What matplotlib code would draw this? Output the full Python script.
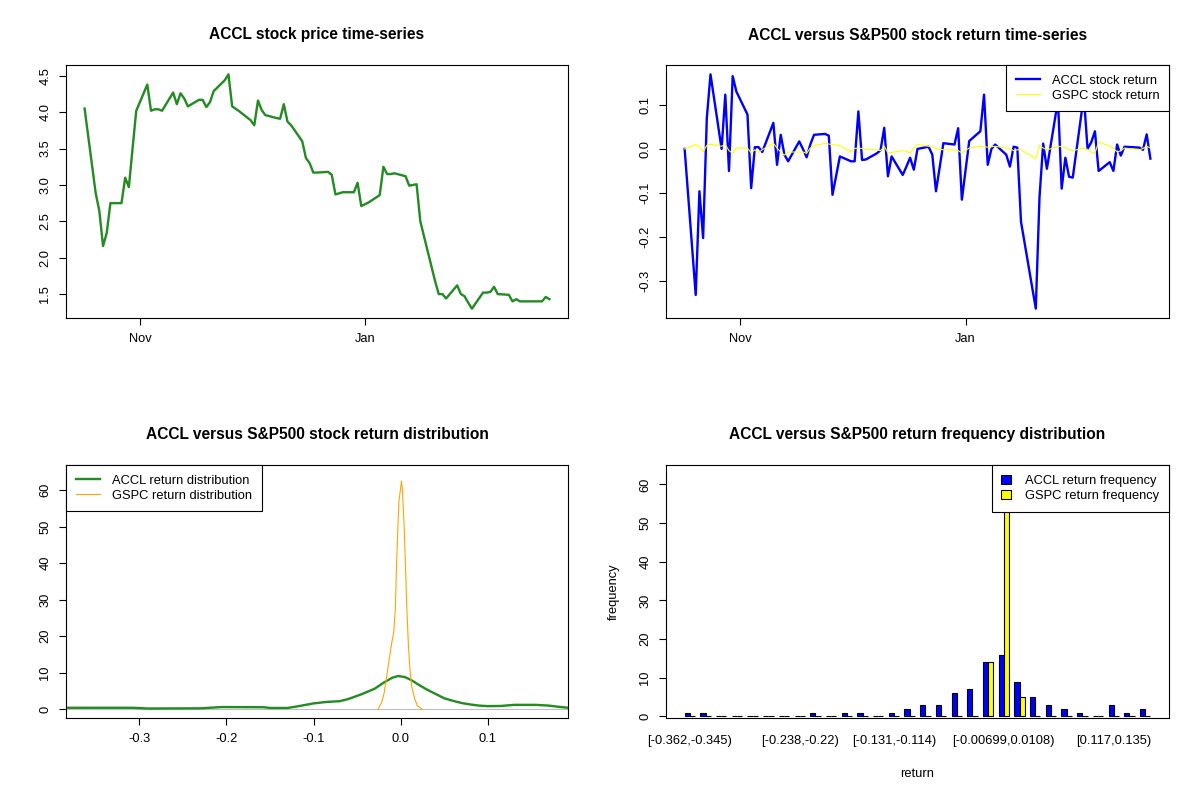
import numpy as np
import pandas as pd
import matplotlib
matplotlib.use('Agg')
import matplotlib.pyplot as plt
from matplotlib.patches import Patch
from matplotlib.lines import Line2D

plt.rcParams['font.family'] = ['Liberation Sans', 'DejaVu Sans']

# trading days shown on the two time-series panels
holidays = ['2014-11-27', '2014-12-25', '2015-01-01', '2015-01-19', '2015-02-16']
dates = pd.bdate_range('2014-10-17', '2015-02-20', freq='C', holidays=holidays)

accl_price = [4.05, 2.89, 2.64, 2.16, 2.34, 2.75, 2.75, 3.10, 2.97, 3.50, 4.02,
              4.38, 4.02, 4.04, 4.04, 4.02, 4.27, 4.11, 4.26, 4.19, 4.08,
              4.17, 4.17, 4.07, 4.14, 4.29, 4.44, 4.52, 4.08, 4.01,
              3.89, 3.82, 4.16, 4.03, 3.96, 3.92, 3.91, 4.11, 3.87, 3.82,
              3.60, 3.37, 3.30, 3.17, 3.17, 3.18, 3.14, 2.87, 2.90, 2.90, 3.03, 2.71,
              2.76, 2.86, 3.25, 3.15, 3.15, 3.16, 3.12, 2.99, 3.00, 3.01, 2.50,
              1.68, 1.50, 1.50, 1.44, 1.62, 1.50, 1.47, 1.38, 1.30,
              1.52, 1.52, 1.53, 1.60, 1.50, 1.49, 1.40, 1.43, 1.40, 1.40,
              1.40, 1.40, 1.46, 1.43]

accl_ret = [0.0, -0.331, -0.096, -0.202, 0.07, 0.169, 0.0, 0.123, -0.05, 0.165, 0.13,
            0.078, -0.089, 0.004, 0.004, -0.007, 0.059, -0.036, 0.032, -0.013, -0.028,
            0.017, 0.0, -0.019, 0.01, 0.032, 0.034, 0.03, -0.104, -0.017,
            -0.028, -0.028, 0.085, -0.025, -0.024, -0.01, -0.003, 0.048, -0.062, -0.017,
            -0.059, -0.04, -0.02, -0.047, 0.0, 0.005, -0.013, -0.096, 0.013, 0.01, 0.047, -0.115,
            0.018, 0.04, 0.123, -0.036, 0.0, 0.01, -0.013, -0.04, 0.005, 0.003, -0.165,
            -0.362, -0.11, 0.012, -0.045, 0.11, -0.09, -0.02, -0.063, -0.065,
            0.12, 0.0, 0.015, 0.04, -0.05, -0.03, -0.05, 0.01, -0.015, 0.005,
            0.003, -0.002, 0.033, -0.022]

gspc_ret = [0.0, 0.010, 0.005, -0.007, 0.008, 0.011, 0.006, 0.010, -0.004, -0.010, 0.002,
            0.002, -0.009, -0.002, -0.008, -0.002, 0.013, 0.002, -0.007, -0.014, -0.007,
            -0.007, -0.007, -0.010, 0.002, 0.007, 0.013, 0.011, 0.010, 0.007,
            -0.007, 0.001, 0.002, 0.001, -0.001, -0.002, -0.004, 0.006, -0.009, -0.008,
            -0.004, -0.005, -0.009, 0.002, 0.010, 0.006, 0.004, 0.001, -0.002, -0.002, -0.004, -0.009,
            0.002, 0.006, 0.005, 0.004, 0.005, 0.006, 0.002, 0.001, -0.004, -0.002, -0.002,
            -0.022, 0.008, 0.002, -0.002, 0.005, 0.006, 0.002, -0.002, -0.004,
            0.002, -0.001, -0.007, -0.010, 0.016, 0.006, 0.002, -0.007, -0.004, 0.002,
            -0.002, 0.001, 0.006, 0.002]

# density curves
accl_dens_x = [-0.384, -0.307, -0.29, -0.23, -0.205, -0.157, -0.15, -0.13, -0.118, -0.10,
               -0.085, -0.07, -0.06, -0.045, -0.03, -0.02, -0.01, -0.003, 0.005, 0.012,
               0.02, 0.03, 0.04, 0.05, 0.06, 0.07, 0.08, 0.09, 0.10, 0.115,
               0.13, 0.155, 0.17, 0.18, 0.192]
accl_dens_y = [0.4, 0.4, 0.2, 0.25, 0.6, 0.55, 0.35, 0.35, 0.8, 1.6,
               2.0, 2.2, 2.8, 4.1, 5.6, 7.2, 8.6, 9.1, 8.8, 8.0,
               6.8, 5.4, 4.2, 3.0, 2.3, 1.7, 1.3, 1.0, 0.85, 0.9,
               1.2, 1.2, 1.0, 0.7, 0.4]
gspc_dens_x = [-0.026, -0.0216, -0.019, -0.016, -0.013, -0.0097, -0.008, -0.006, -0.005,
               -0.0035, -0.002, 0.001, 0.002, 0.004, 0.0057, 0.007, 0.0088, 0.0106,
               0.0128, 0.016, 0.019, 0.0246]
gspc_dens_y = [0, 2, 4.4, 9, 14, 19, 21, 28, 38, 48, 57, 62.5, 60, 50, 38, 28, 18, 11,
               6, 3, 1, 0]

# return frequency per bin (30 bins)
accl_freq = [1, 1, 0, 0, 0, 0, 0, 0, 1, 0, 1, 1, 0, 1, 2, 3, 3, 6, 7, 14,
             16, 9, 5, 3, 2, 1, 0, 3, 1, 2]
gspc_freq = [0, 0, 0, 0, 0, 0, 0, 0, 0, 0, 0, 0, 0, 0, 0, 0, 0, 0, 0, 14,
             64, 5, 0, 0, 0, 0, 0, 0, 0, 0]
bin_label_idx = [0, 7, 13, 20, 27]
bin_labels = ['[-0.362,-0.345)', '[-0.238,-0.22)', '[-0.131,-0.114)',
              '[-0.00699,0.0108)', '[0.117,0.135)']

W, H = 1200, 800
FS = 9.3
fig = plt.figure(figsize=(12, 8), dpi=100)

def box(l, t, r, b):
    ax = fig.add_axes([l / W, 1 - b / H, (r - l) / W, (b - t) / H])
    for s in ax.spines.values():
        s.set_linewidth(0.8)
    ax.tick_params(direction='out', length=5, width=0.8, labelsize=FS, pad=5.5)
    return ax

def title(ax, txt, y):
    p = ax.get_position()
    fig.text((p.x0 + p.x1) / 2, 1 - y / H, txt, ha='center', va='center',
             fontsize=11.2, fontweight='bold')

def rot_y(ax):
    for lab in ax.get_yticklabels():
        lab.set_rotation(90)
        lab.set_va('center')

def r_legend(ax, handles, labels, loc, **kw):
    leg = ax.legend(handles=handles, labels=labels, loc=loc, borderaxespad=0,
                    fancybox=False, edgecolor='black', framealpha=1, fontsize=FS,
                    borderpad=0.75, labelspacing=0.22, **kw)
    leg.get_frame().set_linewidth(0.8)
    return leg

date_ticks = [pd.Timestamp('2014-11-01'), pd.Timestamp('2015-01-01')]

# price
ax1 = box(66, 65, 568, 318)
ax1.plot(dates, accl_price, color='forestgreen', lw=1.7)
ax1.margins(x=0.04, y=0.04)
ax1.set_xticks(date_ticks)
ax1.set_xticklabels(['Nov', 'Jan'])
ax1.set_yticks([1.5, 2.0, 2.5, 3.0, 3.5, 4.0, 4.5])
ax1.set_yticklabels(['1.5', '2.0', '2.5', '3.0', '3.5', '4.0', '4.5'])
rot_y(ax1)
title(ax1, 'ACCL stock price time-series', 35)

# returns
ax2 = box(666, 65, 1169, 318)
ax2.plot(dates, accl_ret, color='blue', lw=1.7)
ax2.plot(dates, gspc_ret, color='yellow', lw=0.8)
ax2.margins(x=0.04, y=0.04)
ax2.set_xticks(date_ticks)
ax2.set_xticklabels(['Nov', 'Jan'])
ax2.set_yticks([-0.3, -0.2, -0.1, 0.0, 0.1])
ax2.set_yticklabels(['-0.3', '-0.2', '-0.1', '0.0', '0.1'])
rot_y(ax2)
r_legend(ax2, [Line2D([], [], color='blue', lw=1.7),
               Line2D([], [], color='yellow', lw=0.8)],
         ['ACCL stock return', 'GSPC stock return'], 'upper right',
         handlelength=1.9, handletextpad=0.9)
title(ax2, 'ACCL versus S&P500 stock return time-series', 35)

# densities
ax3 = box(66, 465, 568, 718)
ax3.axhline(0, color='#bebebe', lw=0.8)
ax3.plot(accl_dens_x, accl_dens_y, color='forestgreen', lw=1.7)
ax3.plot(gspc_dens_x, gspc_dens_y, color='orange', lw=0.8)
ax3.set_xlim(-0.384, 0.192)
ax3.set_ylim(-2.4, 66.9)
ax3.set_xticks([-0.3, -0.2, -0.1, 0.0, 0.1])
ax3.set_xticklabels(['-0.3', '-0.2', '-0.1', '0.0', '0.1'])
ax3.set_yticks([0, 10, 20, 30, 40, 50, 60])
rot_y(ax3)
r_legend(ax3, [Line2D([], [], color='forestgreen', lw=1.7),
               Line2D([], [], color='orange', lw=0.8)],
         ['ACCL return distribution', 'GSPC return distribution'], 'upper left',
         handlelength=1.9, handletextpad=0.9)
title(ax3, 'ACCL versus S&P500 stock return distribution', 435)

# frequency bars
ax4 = box(666, 465, 1169, 718)
grp = np.arange(len(accl_freq))
ax4.bar(3 * grp + 1, accl_freq, width=1, align='edge', color='blue',
        edgecolor='black', lw=0.8)
ax4.bar(3 * grp + 2, gspc_freq, width=1, align='edge', color='yellow',
        edgecolor='black', lw=0.8)
ax4.set_xlim(1 - 3.56, 90 + 3.56)
ax4.set_ylim(-0.4, 65)
ax4.set_xticks([3 * i + 2 for i in bin_label_idx])
ax4.set_xticklabels(bin_labels)
ax4.tick_params(axis='x', length=0, pad=12.5)
ax4.set_yticks([0, 10, 20, 30, 40, 50, 60])
rot_y(ax4)
ax4.set_xlabel('return', fontsize=FS, labelpad=15)
ax4.set_ylabel('frequency', fontsize=FS, labelpad=14)
r_legend(ax4, [Patch(facecolor='blue', edgecolor='black', lw=0.8),
               Patch(facecolor='yellow', edgecolor='black', lw=0.8)],
         ['ACCL return frequency', 'GSPC return frequency'], 'upper right',
         handlelength=0.75, handleheight=0.75, handletextpad=1.1)
title(ax4, 'ACCL versus S&P500 return frequency distribution', 435)

fig.savefig('out.png', dpi=100)
